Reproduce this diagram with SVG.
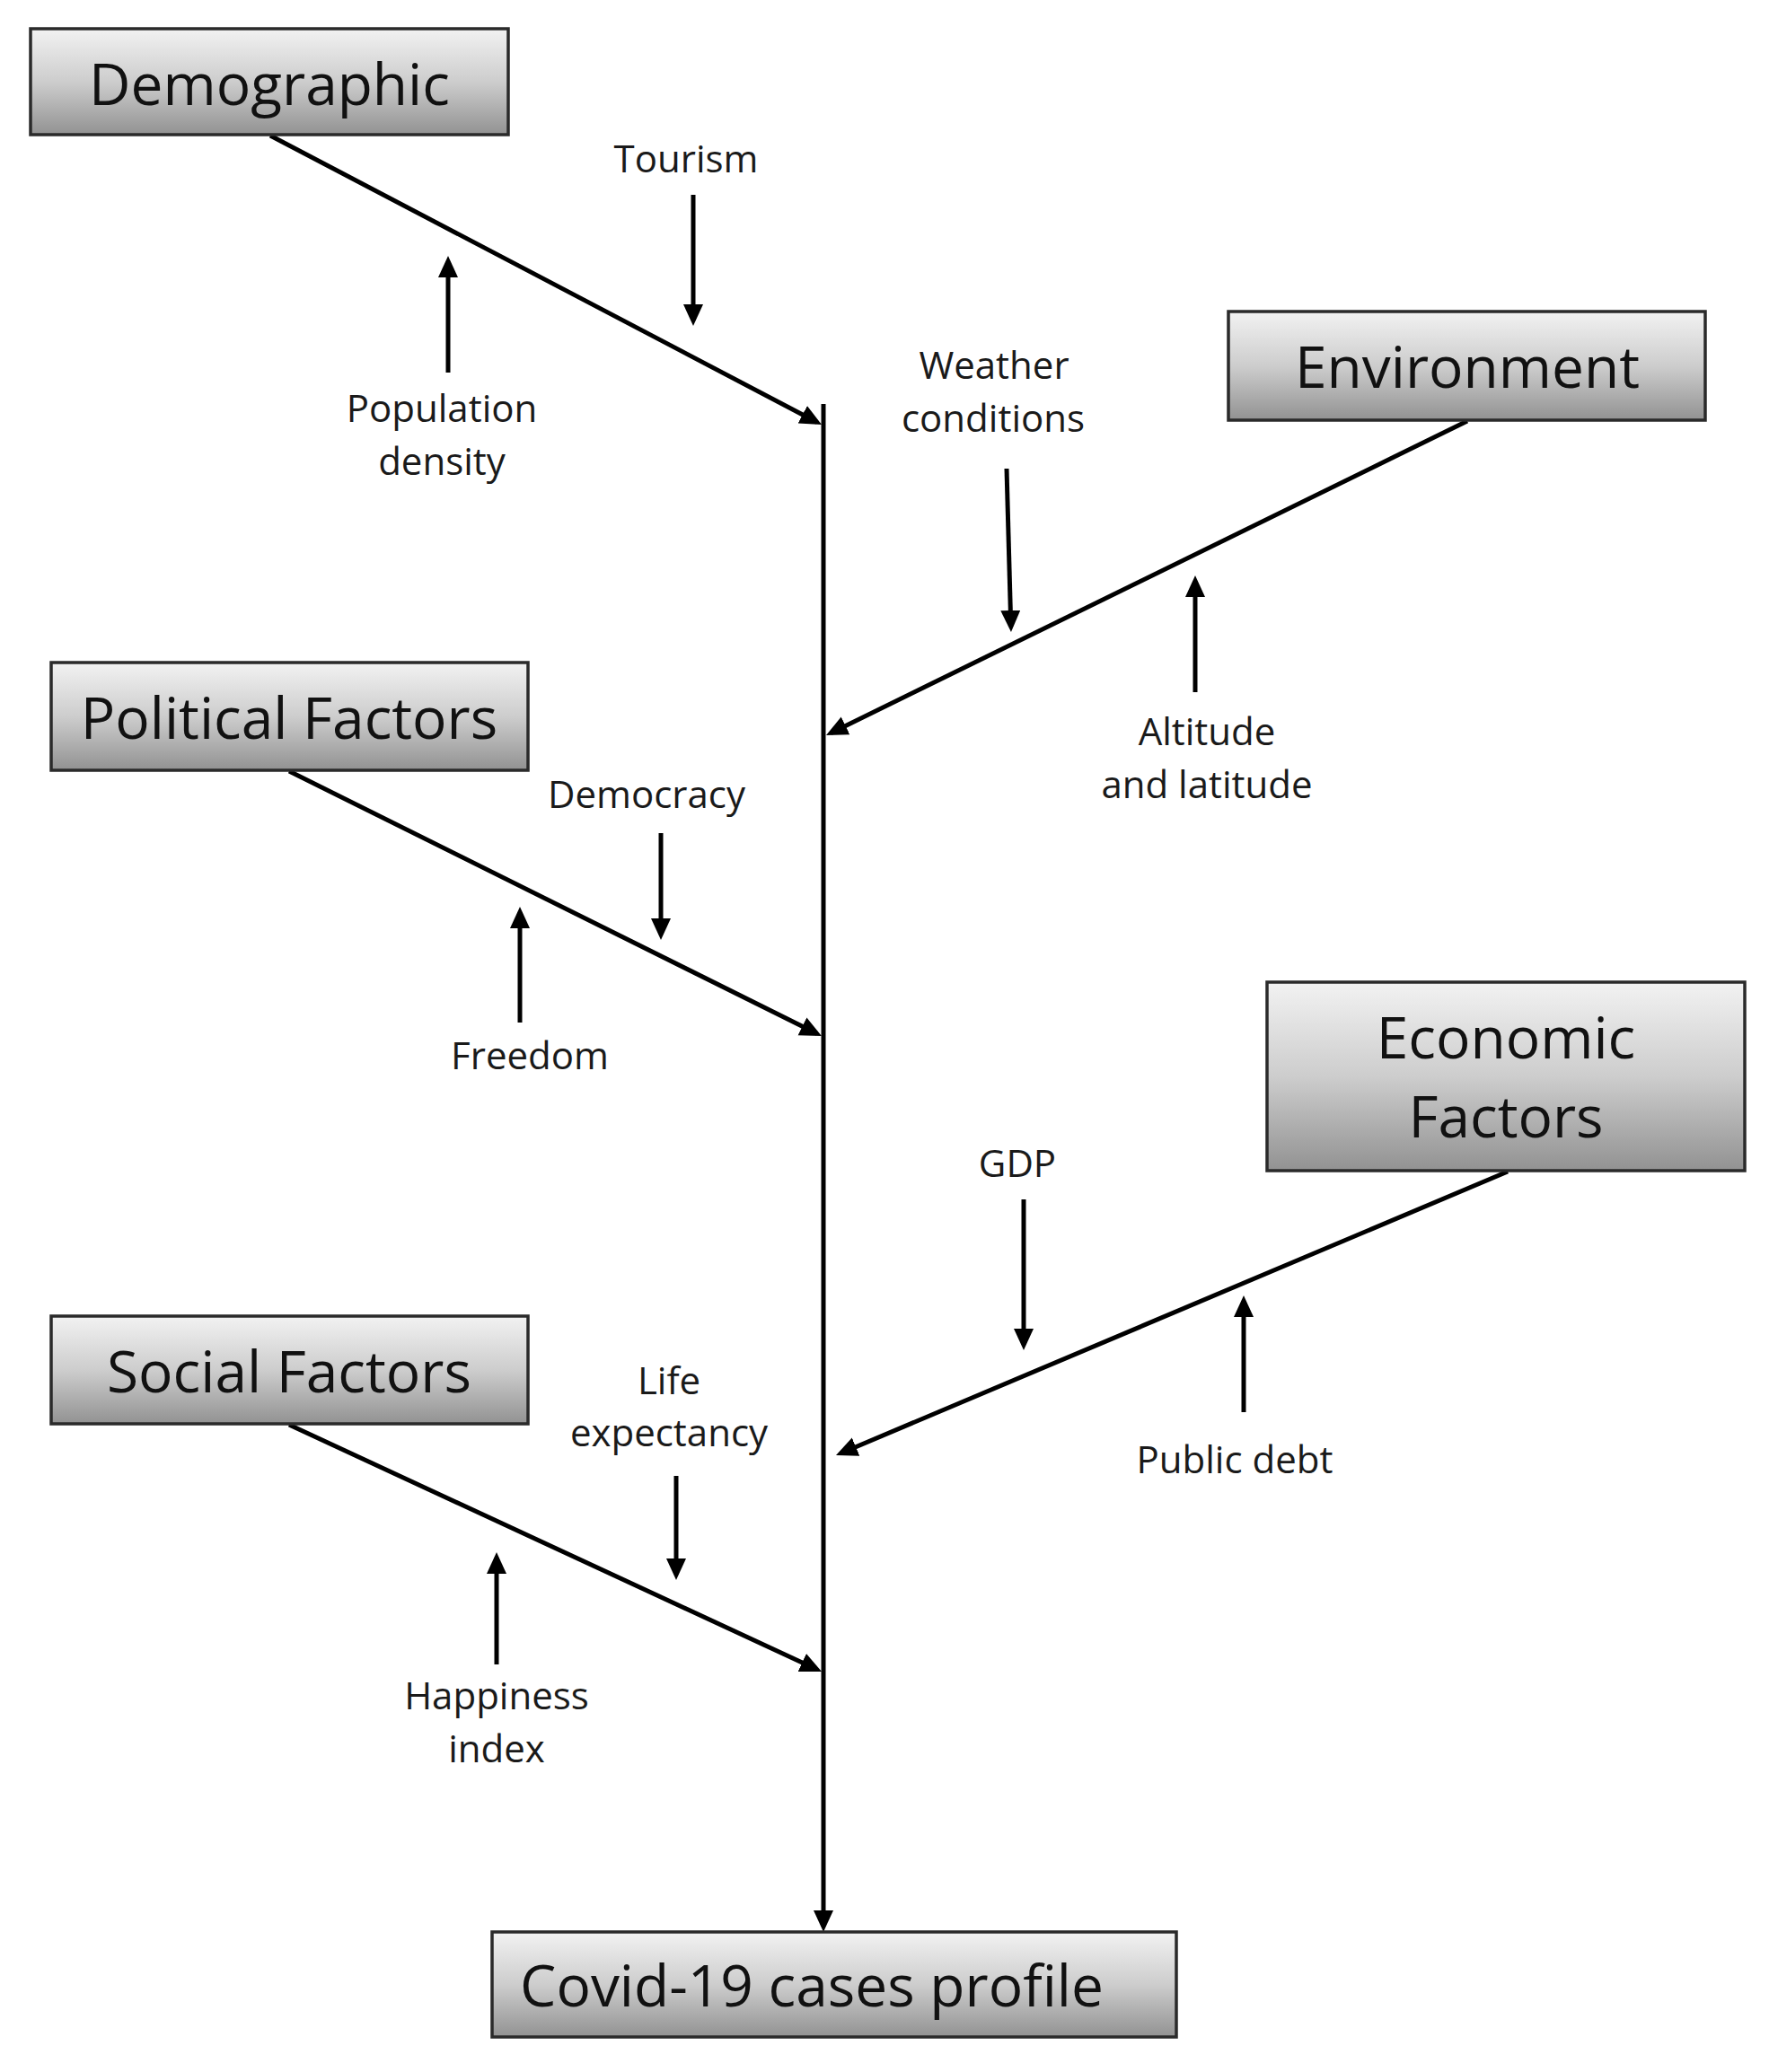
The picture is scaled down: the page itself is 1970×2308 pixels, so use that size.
<svg xmlns="http://www.w3.org/2000/svg" width="1970" height="2308" viewBox="0 0 1970 2308">
  <defs>
    <linearGradient id="boxGrad" x1="0" y1="0" x2="0" y2="1">
      <stop offset="0" stop-color="#f2f2f2"/>
      <stop offset="0.5" stop-color="#cdcdcd"/>
      <stop offset="1" stop-color="#929292"/>
    </linearGradient>
    <marker id="ah" markerUnits="userSpaceOnUse" markerWidth="26" markerHeight="24" refX="18" refY="11" orient="auto" viewBox="0 0 26 24">
      <path d="M0,0 L24,11 L0,22 z" fill="#000"/>
    </marker>
  </defs>
  <style>
    .box { fill: url(#boxGrad); stroke: #2a2a2a; stroke-width: 3.5; }
    .title { font-family: "Open Sans", "Noto Sans", sans-serif; font-size: 64px; fill: #111; text-anchor: middle; }
    .lbl { font-family: "Open Sans", "Noto Sans", sans-serif; font-size: 42px; fill: #1a1a1a; text-anchor: middle; }
    .conn line { stroke: #000; stroke-width: 5; fill: none; marker-end: url(#ah); }
  </style>
  <rect width="1970" height="2308" fill="#fff"/>

  <g id="connectors" class="conn">
    <line x1="917" y1="450" x2="917" y2="2146"/>
    <line x1="301" y1="151" x2="909.7" y2="470.2"/>
    <line x1="1634" y1="469" x2="925.4" y2="816.4"/>
    <line x1="322" y1="859" x2="909.6" y2="1151.3"/>
    <line x1="1679" y1="1305" x2="936.5" y2="1618.7"/>
    <line x1="322" y1="1587" x2="909.6" y2="1859.5"/>
    <line x1="772" y1="217" x2="772" y2="357"/>
    <line x1="499" y1="415" x2="499" y2="291"/>
    <line x1="1121" y1="522" x2="1125.8" y2="698"/>
    <line x1="1331" y1="771" x2="1331" y2="647"/>
    <line x1="736" y1="928" x2="736" y2="1041"/>
    <line x1="579" y1="1139" x2="579" y2="1016"/>
    <line x1="1140" y1="1336" x2="1140" y2="1498"/>
    <line x1="1385" y1="1573" x2="1385" y2="1449"/>
    <line x1="753" y1="1644" x2="753" y2="1754"/>
    <line x1="553" y1="1854" x2="553" y2="1735"/>
  </g>

  <g id="demographic">
    <rect class="box" x="34" y="32" width="532" height="118"/>
    <text class="title" x="300" y="117">Demographic</text>
  </g>
  <g id="environment">
    <rect class="box" x="1368" y="347" width="531" height="121"/>
    <text class="title" x="1634" y="432">Environment</text>
  </g>
  <g id="political">
    <rect class="box" x="57" y="738" width="531" height="120"/>
    <text class="title" x="322" y="823">Political Factors</text>
  </g>
  <g id="economic">
    <rect class="box" x="1411" y="1094" width="532" height="210"/>
    <text class="title" x="1677" y="1179">Economic</text>
    <text class="title" x="1677" y="1267">Factors</text>
  </g>
  <g id="social">
    <rect class="box" x="57" y="1466" width="531" height="120"/>
    <text class="title" x="322" y="1551">Social Factors</text>
  </g>
  <g id="covid">
    <rect class="box" x="548" y="2152" width="762" height="117"/>
    <text class="title" x="904" y="2235">Covid-19 cases profile</text>
  </g>

  <g id="tourism"><text class="lbl" x="764" y="192">Tourism</text></g>
  <g id="population-density">
    <text class="lbl" x="492" y="470">Population</text>
    <text class="lbl" x="492" y="529">density</text>
  </g>
  <g id="weather-conditions">
    <text class="lbl" x="1107" y="422">Weather</text>
    <text class="lbl" x="1106" y="481">conditions</text>
  </g>
  <g id="altitude-latitude">
    <text class="lbl" x="1344" y="830">Altitude</text>
    <text class="lbl" x="1344" y="889">and latitude</text>
  </g>
  <g id="democracy"><text class="lbl" x="720" y="900">Democracy</text></g>
  <g id="freedom"><text class="lbl" x="590" y="1191">Freedom</text></g>
  <g id="gdp"><text class="lbl" x="1133" y="1311">GDP</text></g>
  <g id="public-debt"><text class="lbl" x="1375" y="1641">Public debt</text></g>
  <g id="life-expectancy">
    <text class="lbl" x="745" y="1553">Life</text>
    <text class="lbl" x="745" y="1611">expectancy</text>
  </g>
  <g id="happiness-index">
    <text class="lbl" x="553" y="1904">Happiness</text>
    <text class="lbl" x="553" y="1963">index</text>
  </g>
</svg>
